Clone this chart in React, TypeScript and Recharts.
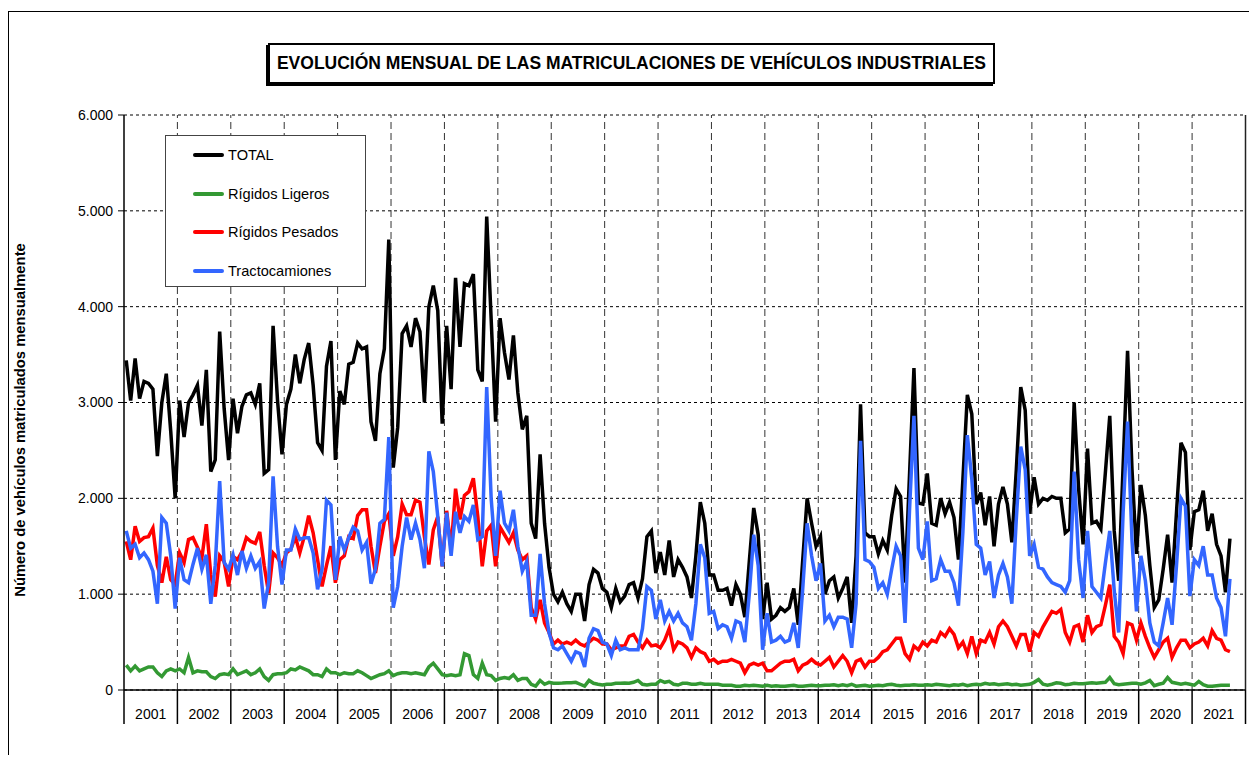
import React from 'react';
import {
  LineChart,
  Line,
  XAxis,
  YAxis,
  CartesianGrid,
  Legend,
  ReferenceLine,
} from 'recharts';

// monthly data, Jan 2001 .. Sep 2021 (one row per year)
const years = [
  2001, 2002, 2003, 2004, 2005, 2006, 2007, 2008, 2009, 2010, 2011,
  2012, 2013, 2014, 2015, 2016, 2017, 2018, 2019, 2020, 2021,
];

const total = [
  3440, 3020, 3460, 3040, 3220, 3200, 3140, 2440, 3000, 3300, 2700, 2000,
  3020, 2640, 3000, 3080, 3180, 2760, 3340, 2280, 2400, 3740, 2940, 2400,
  3040, 2680, 2960, 3080, 3100, 2980, 3200, 2260, 2300, 3800, 3020, 2460,
  2980, 3140, 3500, 3200, 3450, 3620, 3180, 2580, 2500, 3380, 3640, 2400,
  3120, 2980, 3400, 3420, 3620, 3560, 3580, 2800, 2600, 3300, 3560, 4700,
  2320, 2740, 3720, 3800, 3580, 3880, 3740, 3000, 4000, 4220, 3960, 2780,
  3800, 3140, 4300, 3580, 4240, 4220, 4340, 3340, 3220, 4940, 3870, 2800,
  3880, 3520, 3240, 3700, 3100, 2720, 2860, 1740, 1580, 2460, 1740, 1280,
  1000, 920, 1020, 900, 820, 1000, 1000, 720, 1100, 1260, 1220, 1060,
  1020, 860, 1060, 920, 980, 1100, 1120, 960, 1160, 1600, 1660, 1220,
  1440, 1200, 1560, 1180, 1360, 1280, 1180, 960, 1400, 1960, 1740, 1200,
  1200, 1040, 1040, 1060, 880, 1100, 1000, 760, 1340, 1900, 1620, 740,
  1120, 740, 780, 860, 820, 860, 1060, 680, 1350, 2000, 1740, 1500,
  1600, 1000, 1140, 1180, 960, 1060, 1180, 700, 1400, 2980, 1640, 1600,
  1600, 1420, 1560, 1460, 1820, 2100, 2020, 1120, 2240, 3360, 1950, 1940,
  2260, 1740, 1720, 2000, 1840, 1960, 1800, 1360, 2200, 3080, 2880, 1940,
  2060, 1720, 2020, 1500, 1940, 2120, 1940, 1540, 2300, 3160, 2920, 1840,
  2220, 1940, 2000, 1980, 2020, 2000, 2000, 1640, 1680, 3000, 2100, 1520,
  2520, 1740, 1760, 1680, 2260, 2860, 1660, 1140, 2340, 3540, 2300, 1420,
  2140, 1820, 1300, 860, 940, 1260, 1620, 1120, 1860, 2580, 2480, 1460,
  1860, 1880, 2080, 1660, 1840, 1520, 1400, 1020, 1580,
];

const ligeros = [
  260, 200, 250, 200, 220, 240, 240, 180, 140, 200, 220, 200,
  220, 180, 340, 180, 200, 190, 190, 140, 120, 160, 170, 160,
  220, 160, 180, 200, 160, 180, 220, 140, 100, 160, 170, 170,
  180, 220, 210, 240, 220, 200, 160, 160, 140, 220, 180, 180,
  160, 180, 170, 170, 200, 180, 150, 120, 140, 160, 170, 200,
  150, 170, 180, 180, 170, 180, 170, 160, 240, 280, 220, 160,
  150, 160, 150, 160, 380, 360, 160, 120, 280, 160, 150, 100,
  120, 130, 120, 160, 100, 120, 120, 60, 40, 100, 60, 80,
  70, 70, 72, 76, 76, 80, 60, 40, 100, 70, 60, 52,
  60, 60, 70, 70, 72, 70, 80, 100, 60, 52, 60, 60,
  100, 80, 90, 60, 52, 70, 70, 60, 60, 70, 60, 60,
  60, 60, 50, 50, 50, 40, 40, 50, 45, 50, 45, 40,
  50, 40, 45, 40, 40, 45, 50, 40, 40, 45, 50, 45,
  45, 50, 50, 55, 45, 55, 45, 60, 40, 45, 50, 40,
  45, 50, 45, 55, 60, 50, 45, 50, 50, 55, 50, 50,
  55, 50, 60, 55, 50, 45, 55, 50, 60, 45, 55, 60,
  55, 70, 60, 65, 55, 60, 65, 55, 60, 50, 55, 60,
  80, 110, 60, 50, 60, 75, 70, 55, 60, 70, 65, 65,
  70, 75, 70, 75, 80, 130, 65, 55, 60, 65, 70, 70,
  60, 75, 100, 45, 60, 70, 130, 80, 70, 60, 70, 60,
  50, 90, 55, 40, 40, 45, 50, 50, 50,
];

const pesados = [
  1550, 1360, 1710, 1550, 1590, 1600, 1690, 1300, 1120, 1390, 1150, 1100,
  1430, 1330, 1570, 1590, 1490, 1380, 1730, 1200, 975, 1400, 1340, 1080,
  1395, 1360, 1440, 1590, 1550, 1530, 1650, 1300, 1010, 1430, 1380, 1300,
  1430, 1470, 1600, 1430, 1600, 1820, 1640, 1360, 1080, 1300, 1500, 1120,
  1360, 1400, 1600, 1580, 1820, 1880, 1880, 1500, 1220, 1500, 1760, 1840,
  1400, 1600, 1940, 1830, 1830, 1980, 1960, 1600, 1310, 1670, 1810, 1290,
  1870, 1470, 2100, 1780, 2030, 2070, 2210, 1810, 1290, 1660, 1720, 1290,
  1700, 1620, 1540, 1640, 1460, 1360, 1400, 860, 740, 940, 700, 600,
  480, 520, 480, 500, 480, 520, 480, 460, 500, 540, 520, 480,
  480, 420, 440, 460, 460, 560, 580, 500, 440, 520, 460, 470,
  440, 520, 640, 420, 500, 480, 440, 340, 440, 400, 380, 300,
  320, 280, 300, 300, 320, 300, 280, 180, 260, 280, 260, 280,
  200, 200, 240, 280, 300, 300, 320, 200, 260, 280, 320, 280,
  260, 300, 340, 240, 300, 360, 300, 180, 300, 320, 240, 300,
  300, 340, 400, 420, 480, 540, 540, 380, 320, 460, 420, 500,
  460, 520, 500, 600, 560, 640, 580, 440, 500, 380, 560, 380,
  520, 500, 600, 480, 660, 720, 660, 560, 460, 580, 580, 400,
  600, 560, 660, 740, 820, 800, 840, 600, 500, 660, 680, 500,
  780, 600, 660, 680, 880, 1100, 560, 500, 380, 700, 680, 520,
  700, 560, 440, 340, 420, 500, 540, 340, 440, 520, 520, 440,
  480, 500, 540, 460, 620, 540, 520, 420, 400,
];

const tracto = [
  1660, 1480, 1520, 1380, 1430, 1360, 1240, 900, 1800, 1740, 1400, 850,
  1380, 1150, 1120, 1310, 1480, 1260, 1410, 900, 1300, 2180, 1330, 1260,
  1410, 1200, 1450, 1270, 1400, 1270, 1340, 850, 1120, 2230, 1500, 1100,
  1460, 1460, 1680, 1570, 1590, 1590, 1430, 1050, 1260, 1980, 1930, 1150,
  1600, 1460, 1590, 1700, 1660, 1460, 1540, 1110, 1260, 1740, 1780, 2640,
  860, 1080, 1500, 1800, 1570, 1740, 1570, 1270, 2490, 2280, 1810, 1290,
  1850, 1400, 1860, 1640, 1810, 1760, 1930, 1570, 1600, 3160, 2000, 1400,
  2080, 1740, 1660, 1880, 1500, 1240, 1340, 780, 780, 1420, 900, 600,
  440, 420, 460, 380, 300, 400, 380, 240, 540, 640, 620, 500,
  480, 360, 520, 420, 440, 420, 420, 420, 640, 1080, 1040, 740,
  940, 720, 820, 720, 800, 700, 660, 520, 900, 1520, 1380, 800,
  820, 640, 680, 660, 540, 720, 700, 500, 1000, 1620, 1300, 420,
  800, 500, 520, 560, 500, 520, 700, 440, 1050, 1740, 1400, 1140,
  1320, 720, 780, 660, 760, 760, 740, 440, 900, 2600, 1360, 1340,
  1280, 1060, 1120, 1000, 1260, 1500, 1400, 700, 1870, 2860, 1480, 1360,
  1760, 1140, 1160, 1360, 1240, 1240, 1120, 880, 1650, 2660, 2200, 1520,
  1480, 1200, 1340, 960, 1200, 1320, 1180, 900, 1780, 2540, 2300, 1400,
  1520, 1280, 1260, 1180, 1120, 1100, 1080, 1020, 1140, 2280, 1360, 960,
  1660, 1080, 1020, 960, 1320, 1660, 1040, 600, 1850, 2800, 1560, 820,
  1400, 1140, 700, 500, 460, 700, 960, 680, 1300, 2000, 1920, 980,
  1360, 1300, 1500, 1200, 1200, 960, 860, 560, 1160,
];

const seriesNames = ['TOTAL', 'Rígidos Ligeros', 'Rígidos Pesados', 'Tractocamiones'];

const yTicks = [0, 1000, 2000, 3000, 4000, 5000, 6000];

// x runs in months, each point sits in the middle of its month
const chartData = total.map((v, i) => ({
  x: i + 0.5,
  total: v,
  ligeros: ligeros[i],
  pesados: pesados[i],
  tracto: tracto[i],
}));

const yearBounds = years.map((_, i) => i * 12).concat([years.length * 12]);
const yearMids = years.map((_, i) => i * 12 + 6);
const xTicks = [...yearBounds, ...yearMids].sort((a, b) => a - b);

const font = '"Liberation Sans", Arial, sans-serif';

const fmtThousands = (v: number) => (v === 0 ? '0' : `${v / 1000}.000`);

const YearTick = (props: any) => {
  const { x, y, payload } = props;
  const v = payload.value as number;
  if (v % 12 === 0) {
    return <line x1={x} x2={x} y1={y} y2={y + 34} stroke="#000" strokeWidth={1.5} />;
  }
  const year = years[(v - 6) / 12];
  return (
    <text x={x} y={y + 29} textAnchor="middle" fontSize={14} fontFamily={font} fill="#000">
      {year}
    </text>
  );
};

const renderLegend = (props: any) => {
  const items = [...(props.payload || [])].sort(
    (a: any, b: any) => seriesNames.indexOf(a.value) - seriesNames.indexOf(b.value)
  );
  return (
    <div
      style={{
        width: 201,
        height: 152,
        boxSizing: 'border-box',
        border: '1px solid #444',
        background: '#fff',
        position: 'relative',
        fontFamily: font,
        fontSize: 14.6,
        color: '#000',
      }}
    >
      {items.map((entry: any, i: number) => (
        <div
          key={entry.value}
          style={{
            position: 'absolute',
            left: 27,
            top: 19 + i * 38.5 - 9,
            height: 18,
            display: 'flex',
            alignItems: 'center',
            whiteSpace: 'nowrap',
          }}
        >
          <span
            style={{
              display: 'inline-block',
              width: 31,
              height: 4,
              borderRadius: 2,
              background: entry.color,
              marginRight: 4,
            }}
          />
          {entry.value}
        </div>
      ))}
    </div>
  );
};

export default function App() {
  return (
    <div
      style={{
        position: 'relative',
        top: 3,
        width: 1249,
        height: 747,
        boxSizing: 'border-box',
        borderLeft: '1px solid #000',
        borderTop: '1px solid #000',
        fontFamily: font,
      }}
    >
      <style>{'body{overflow:hidden}'}</style>
      <div
        style={{
          position: 'absolute',
          left: 259,
          top: 31,
          width: 727,
          height: 41,
          boxSizing: 'border-box',
          border: '2px solid #000',
          boxShadow: '-2px 2px 0 #000',
          display: 'flex',
          alignItems: 'center',
          justifyContent: 'center',
          fontWeight: 'bold',
          fontSize: 17.5,
          whiteSpace: 'nowrap',
        }}
      >
        EVOLUCIÓN MENSUAL DE LAS MATRICULACIONES DE VEHÍCULOS INDUSTRIALES
      </div>
      <div
        style={{
          position: 'absolute',
          left: 11,
          top: 408,
          transform: 'translate(-50%, -50%) rotate(-90deg)',
          whiteSpace: 'nowrap',
          fontWeight: 'bold',
          fontSize: 14.8,
        }}
      >
        Número de vehículos matriculados mensualmente
      </div>
      <div style={{ position: 'absolute', left: 0, top: 0 }}>
        <LineChart
          width={1248}
          height={746}
          data={chartData}
          margin={{ top: 103, right: 11.5, left: 55, bottom: 28 }}
        >
          <CartesianGrid vertical={false} stroke="#000" strokeDasharray="3 3" />
          {yearBounds.slice(1, -1).map((b) => (
            <ReferenceLine key={b} x={b} stroke="#333" strokeDasharray="7 4" />
          ))}
          <ReferenceLine x={252} stroke="#222" strokeWidth={1.5} />
          <XAxis
            dataKey="x"
            type="number"
            domain={[0, 252]}
            ticks={xTicks}
            interval={0}
            height={40}
            tickSize={0}
            tickMargin={0}
            tickLine={false}
            axisLine={{ stroke: '#000', strokeWidth: 1.5 }}
            tick={<YearTick />}
          />
          <YAxis
            domain={[0, 6000]}
            ticks={yTicks}
            width={60}
            tickSize={6}
            tickMargin={5}
            tickFormatter={fmtThousands}
            axisLine={{ stroke: '#000', strokeWidth: 1.5 }}
            tickLine={{ stroke: '#000' }}
            tick={{ fontSize: 14, fontFamily: font, fill: '#000' }}
          />
          <Legend
            layout="vertical"
            verticalAlign="middle"
            align="center"
            wrapperStyle={{ position: 'absolute', left: 156, top: 123, width: 201 }}
            content={renderLegend}
          />
          <Line
            type="linear"
            dataKey="total"
            name="TOTAL"
            stroke="#000000"
            strokeWidth={3.5}
            dot={false}
            isAnimationActive={false}
          />
          <Line
            type="linear"
            dataKey="ligeros"
            name="Rígidos Ligeros"
            stroke="#339933"
            strokeWidth={3.5}
            dot={false}
            isAnimationActive={false}
          />
          <Line
            type="linear"
            dataKey="pesados"
            name="Rígidos Pesados"
            stroke="#ff0000"
            strokeWidth={3.5}
            dot={false}
            isAnimationActive={false}
          />
          <Line
            type="linear"
            dataKey="tracto"
            name="Tractocamiones"
            stroke="#3366ff"
            strokeWidth={3.5}
            dot={false}
            isAnimationActive={false}
          />
        </LineChart>
      </div>
    </div>
  );
}
